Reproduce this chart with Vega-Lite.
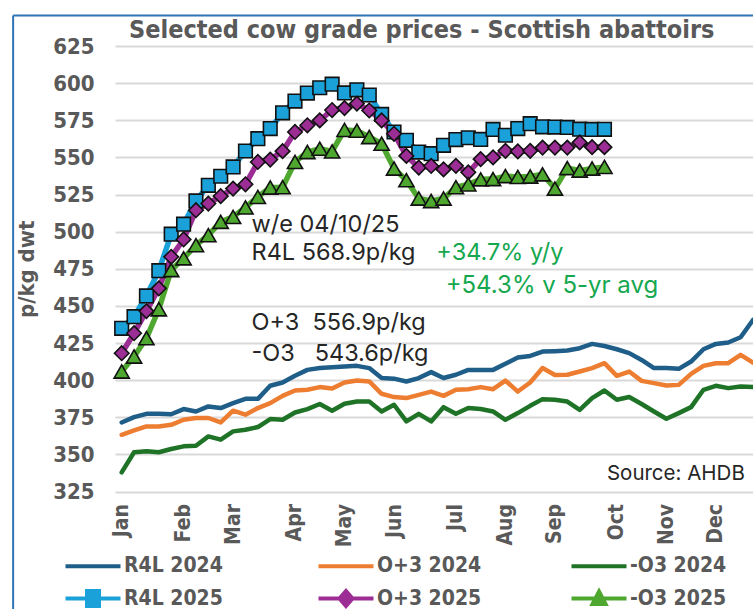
{
  "$schema": "https://vega.github.io/schema/vega-lite/v6.json",
  "autosize": "none",
  "width": 638,
  "height": 445.5,
  "padding": {"left": 115, "top": 46, "right": 0, "bottom": 117.5},
  "background": "white",
  "config": {
    "view": {"stroke": null},
    "font": "DejaVu Sans Condensed, sans-serif",
    "axis": {"labelOverlap": false}
  },
  "data": {
    "values": [
      {"week":1,"series":"R4L 2024","price":371.5},{"week":2,"series":"R4L 2024","price":375.1},{"week":3,"series":"R4L 2024","price":377.3},{"week":4,"series":"R4L 2024","price":377.3},{"week":5,"series":"R4L 2024","price":377.0},{"week":6,"series":"R4L 2024","price":380.5},{"week":7,"series":"R4L 2024","price":378.9},{"week":8,"series":"R4L 2024","price":382.3},{"week":9,"series":"R4L 2024","price":381.2},{"week":10,"series":"R4L 2024","price":384.5},
      {"week":11,"series":"R4L 2024","price":387.4},{"week":12,"series":"R4L 2024","price":387.4},{"week":13,"series":"R4L 2024","price":396.2},{"week":14,"series":"R4L 2024","price":398.4},{"week":15,"series":"R4L 2024","price":402.9},{"week":16,"series":"R4L 2024","price":406.9},{"week":17,"series":"R4L 2024","price":408.1},{"week":18,"series":"R4L 2024","price":408.7},{"week":19,"series":"R4L 2024","price":409.1},{"week":20,"series":"R4L 2024","price":409.6},
      {"week":21,"series":"R4L 2024","price":408.1},{"week":22,"series":"R4L 2024","price":401.4},{"week":23,"series":"R4L 2024","price":401.0},{"week":24,"series":"R4L 2024","price":399.1},{"week":25,"series":"R4L 2024","price":401.4},{"week":26,"series":"R4L 2024","price":405.4},{"week":27,"series":"R4L 2024","price":401.4},{"week":28,"series":"R4L 2024","price":403.6},{"week":29,"series":"R4L 2024","price":406.9},{"week":30,"series":"R4L 2024","price":406.9},
      {"week":31,"series":"R4L 2024","price":406.9},{"week":32,"series":"R4L 2024","price":411.0},{"week":33,"series":"R4L 2024","price":415.2},{"week":34,"series":"R4L 2024","price":416.3},{"week":35,"series":"R4L 2024","price":419.2},{"week":36,"series":"R4L 2024","price":419.5},{"week":37,"series":"R4L 2024","price":419.9},{"week":38,"series":"R4L 2024","price":421.5},{"week":39,"series":"R4L 2024","price":424.4},{"week":40,"series":"R4L 2024","price":423.0},
      {"week":41,"series":"R4L 2024","price":420.8},{"week":42,"series":"R4L 2024","price":418.2},{"week":43,"series":"R4L 2024","price":413.6},{"week":44,"series":"R4L 2024","price":408.1},{"week":45,"series":"R4L 2024","price":408.1},{"week":46,"series":"R4L 2024","price":407.6},{"week":47,"series":"R4L 2024","price":412.5},{"week":48,"series":"R4L 2024","price":420.8},{"week":49,"series":"R4L 2024","price":424.4},{"week":50,"series":"R4L 2024","price":425.3},
      {"week":51,"series":"R4L 2024","price":428.9},{"week":52,"series":"R4L 2024","price":440.5},

      {"week":1,"series":"O+3 2024","price":363.2},{"week":2,"series":"O+3 2024","price":366.1},{"week":3,"series":"O+3 2024","price":368.8},{"week":4,"series":"O+3 2024","price":368.8},{"week":5,"series":"O+3 2024","price":369.9},{"week":6,"series":"O+3 2024","price":373.3},{"week":7,"series":"O+3 2024","price":374.5},{"week":8,"series":"O+3 2024","price":374.5},{"week":9,"series":"O+3 2024","price":371.5},{"week":10,"series":"O+3 2024","price":379.4},
      {"week":11,"series":"O+3 2024","price":376.7},{"week":12,"series":"O+3 2024","price":381.2},{"week":13,"series":"O+3 2024","price":384.5},{"week":14,"series":"O+3 2024","price":389.4},{"week":15,"series":"O+3 2024","price":393.0},{"week":16,"series":"O+3 2024","price":393.5},{"week":17,"series":"O+3 2024","price":395.3},{"week":18,"series":"O+3 2024","price":394.3},{"week":19,"series":"O+3 2024","price":398.4},{"week":20,"series":"O+3 2024","price":399.7},
      {"week":21,"series":"O+3 2024","price":399.1},{"week":22,"series":"O+3 2024","price":390.8},{"week":23,"series":"O+3 2024","price":388.6},{"week":24,"series":"O+3 2024","price":387.9},{"week":25,"series":"O+3 2024","price":390.1},{"week":26,"series":"O+3 2024","price":392.3},{"week":27,"series":"O+3 2024","price":389.4},{"week":28,"series":"O+3 2024","price":393.5},{"week":29,"series":"O+3 2024","price":393.9},{"week":30,"series":"O+3 2024","price":395.3},
      {"week":31,"series":"O+3 2024","price":393.9},{"week":32,"series":"O+3 2024","price":399.7},{"week":33,"series":"O+3 2024","price":392.3},{"week":34,"series":"O+3 2024","price":398.4},{"week":35,"series":"O+3 2024","price":408.2},{"week":36,"series":"O+3 2024","price":403.5},{"week":37,"series":"O+3 2024","price":403.6},{"week":38,"series":"O+3 2024","price":405.8},{"week":39,"series":"O+3 2024","price":408.1},{"week":40,"series":"O+3 2024","price":411.4},
      {"week":41,"series":"O+3 2024","price":402.9},{"week":42,"series":"O+3 2024","price":405.8},{"week":43,"series":"O+3 2024","price":399.5},{"week":44,"series":"O+3 2024","price":398.0},{"week":45,"series":"O+3 2024","price":396.4},{"week":46,"series":"O+3 2024","price":396.8},{"week":47,"series":"O+3 2024","price":404.2},{"week":48,"series":"O+3 2024","price":409.6},{"week":49,"series":"O+3 2024","price":411.4},{"week":50,"series":"O+3 2024","price":411.4},
      {"week":51,"series":"O+3 2024","price":417.0},{"week":52,"series":"O+3 2024","price":411.8},

      {"week":1,"series":"-O3 2024","price":337.9},{"week":2,"series":"-O3 2024","price":351.4},{"week":3,"series":"-O3 2024","price":352.1},{"week":4,"series":"-O3 2024","price":351.4},{"week":5,"series":"-O3 2024","price":353.6},{"week":6,"series":"-O3 2024","price":355.4},{"week":7,"series":"-O3 2024","price":355.8},{"week":8,"series":"-O3 2024","price":362.1},{"week":9,"series":"-O3 2024","price":359.9},{"week":10,"series":"-O3 2024","price":365.5},
      {"week":11,"series":"-O3 2024","price":366.6},{"week":12,"series":"-O3 2024","price":368.4},{"week":13,"series":"-O3 2024","price":373.8},{"week":14,"series":"-O3 2024","price":373.3},{"week":15,"series":"-O3 2024","price":378.2},{"week":16,"series":"-O3 2024","price":380.5},{"week":17,"series":"-O3 2024","price":383.9},{"week":18,"series":"-O3 2024","price":379.4},{"week":19,"series":"-O3 2024","price":384.1},{"week":20,"series":"-O3 2024","price":385.6},
      {"week":21,"series":"-O3 2024","price":385.6},{"week":22,"series":"-O3 2024","price":378.9},{"week":23,"series":"-O3 2024","price":383.4},{"week":24,"series":"-O3 2024","price":372.2},{"week":25,"series":"-O3 2024","price":377.3},{"week":26,"series":"-O3 2024","price":372.2},{"week":27,"series":"-O3 2024","price":381.8},{"week":28,"series":"-O3 2024","price":377.3},{"week":29,"series":"-O3 2024","price":381.2},{"week":30,"series":"-O3 2024","price":380.5},
      {"week":31,"series":"-O3 2024","price":378.9},{"week":32,"series":"-O3 2024","price":373.3},{"week":33,"series":"-O3 2024","price":377.8},{"week":34,"series":"-O3 2024","price":382.7},{"week":35,"series":"-O3 2024","price":387.2},{"week":36,"series":"-O3 2024","price":386.8},{"week":37,"series":"-O3 2024","price":385.6},{"week":38,"series":"-O3 2024","price":380.0},{"week":39,"series":"-O3 2024","price":387.9},{"week":40,"series":"-O3 2024","price":393.0},
      {"week":41,"series":"-O3 2024","price":386.8},{"week":42,"series":"-O3 2024","price":388.6},{"week":43,"series":"-O3 2024","price":383.9},{"week":44,"series":"-O3 2024","price":378.9},{"week":45,"series":"-O3 2024","price":374.0},{"week":46,"series":"-O3 2024","price":377.8},{"week":47,"series":"-O3 2024","price":381.8},{"week":48,"series":"-O3 2024","price":393.5},{"week":49,"series":"-O3 2024","price":396.2},{"week":50,"series":"-O3 2024","price":394.6},
      {"week":51,"series":"-O3 2024","price":395.7},{"week":52,"series":"-O3 2024","price":395.3},

      {"week":1,"series":"R4L 2025","price":434.9},{"week":2,"series":"R4L 2025","price":442.7},{"week":3,"series":"R4L 2025","price":456.7},{"week":4,"series":"R4L 2025","price":473.7},{"week":5,"series":"R4L 2025","price":498.3},{"week":6,"series":"R4L 2025","price":505.0},{"week":7,"series":"R4L 2025","price":520.7},{"week":8,"series":"R4L 2025","price":531.2},{"week":9,"series":"R4L 2025","price":537.3},{"week":10,"series":"R4L 2025","price":543.6},
      {"week":11,"series":"R4L 2025","price":554.3},{"week":12,"series":"R4L 2025","price":562.6},{"week":13,"series":"R4L 2025","price":569.4},{"week":14,"series":"R4L 2025","price":580.0},{"week":15,"series":"R4L 2025","price":587.9},{"week":16,"series":"R4L 2025","price":593.3},{"week":17,"series":"R4L 2025","price":596.9},{"week":18,"series":"R4L 2025","price":599.3},{"week":19,"series":"R4L 2025","price":593.4},{"week":20,"series":"R4L 2025","price":595.5},
      {"week":21,"series":"R4L 2025","price":592.0},{"week":22,"series":"R4L 2025","price":578.9},{"week":23,"series":"R4L 2025","price":567.1},{"week":24,"series":"R4L 2025","price":561.5},{"week":25,"series":"R4L 2025","price":553.6},{"week":26,"series":"R4L 2025","price":552.5},{"week":27,"series":"R4L 2025","price":558.1},{"week":28,"series":"R4L 2025","price":562.0},{"week":29,"series":"R4L 2025","price":563.2},{"week":30,"series":"R4L 2025","price":562.1},
      {"week":31,"series":"R4L 2025","price":568.8},{"week":32,"series":"R4L 2025","price":564.9},{"week":33,"series":"R4L 2025","price":569.4},{"week":34,"series":"R4L 2025","price":572.7},{"week":35,"series":"R4L 2025","price":570.6},{"week":36,"series":"R4L 2025","price":570.4},{"week":37,"series":"R4L 2025","price":570.2},{"week":38,"series":"R4L 2025","price":569.0},{"week":39,"series":"R4L 2025","price":568.8},{"week":40,"series":"R4L 2025","price":568.9},

      {"week":1,"series":"O+3 2025","price":418.1},{"week":2,"series":"O+3 2025","price":431.6},{"week":3,"series":"O+3 2025","price":446.5},{"week":4,"series":"O+3 2025","price":461.8},{"week":5,"series":"O+3 2025","price":483.0},{"week":6,"series":"O+3 2025","price":494.7},{"week":7,"series":"O+3 2025","price":514.4},{"week":8,"series":"O+3 2025","price":518.9},{"week":9,"series":"O+3 2025","price":523.9},{"week":10,"series":"O+3 2025","price":529.0},
      {"week":11,"series":"O+3 2025","price":531.9},{"week":12,"series":"O+3 2025","price":546.9},{"week":13,"series":"O+3 2025","price":548.5},{"week":14,"series":"O+3 2025","price":554.2},{"week":15,"series":"O+3 2025","price":567.1},{"week":16,"series":"O+3 2025","price":571.6},{"week":17,"series":"O+3 2025","price":574.9},{"week":18,"series":"O+3 2025","price":581.9},{"week":19,"series":"O+3 2025","price":583.2},{"week":20,"series":"O+3 2025","price":586.2},
      {"week":21,"series":"O+3 2025","price":581.6},{"week":22,"series":"O+3 2025","price":574.9},{"week":23,"series":"O+3 2025","price":565.9},{"week":24,"series":"O+3 2025","price":551.0},{"week":25,"series":"O+3 2025","price":543.1},{"week":26,"series":"O+3 2025","price":544.2},{"week":27,"series":"O+3 2025","price":541.9},{"week":28,"series":"O+3 2025","price":544.3},{"week":29,"series":"O+3 2025","price":539.9},{"week":30,"series":"O+3 2025","price":548.8},
      {"week":31,"series":"O+3 2025","price":550.0},{"week":32,"series":"O+3 2025","price":554.4},{"week":33,"series":"O+3 2025","price":554.0},{"week":34,"series":"O+3 2025","price":554.4},{"week":35,"series":"O+3 2025","price":556.6},{"week":36,"series":"O+3 2025","price":556.6},{"week":37,"series":"O+3 2025","price":556.6},{"week":38,"series":"O+3 2025","price":560.1},{"week":39,"series":"O+3 2025","price":556.9},{"week":40,"series":"O+3 2025","price":556.9},

      {"week":1,"series":"-O3 2025","price":405.8},{"week":2,"series":"-O3 2025","price":415.9},{"week":3,"series":"-O3 2025","price":428.2},{"week":4,"series":"-O3 2025","price":447.7},{"week":5,"series":"-O3 2025","price":474.1},{"week":6,"series":"-O3 2025","price":482.0},{"week":7,"series":"-O3 2025","price":490.9},{"week":8,"series":"-O3 2025","price":497.6},{"week":9,"series":"-O3 2025","price":506.6},{"week":10,"series":"-O3 2025","price":509.9},
      {"week":11,"series":"-O3 2025","price":516.3},{"week":12,"series":"-O3 2025","price":523.4},{"week":13,"series":"-O3 2025","price":529.7},{"week":14,"series":"-O3 2025","price":529.9},{"week":15,"series":"-O3 2025","price":546.9},{"week":16,"series":"-O3 2025","price":553.6},{"week":17,"series":"-O3 2025","price":555.9},{"week":18,"series":"-O3 2025","price":554.0},{"week":19,"series":"-O3 2025","price":568.5},{"week":20,"series":"-O3 2025","price":568.0},
      {"week":21,"series":"-O3 2025","price":563.7},{"week":22,"series":"-O3 2025","price":559.2},{"week":23,"series":"-O3 2025","price":542.5},{"week":24,"series":"-O3 2025","price":534.6},{"week":25,"series":"-O3 2025","price":522.3},{"week":26,"series":"-O3 2025","price":520.6},{"week":27,"series":"-O3 2025","price":522.3},{"week":28,"series":"-O3 2025","price":529.9},{"week":29,"series":"-O3 2025","price":531.8},{"week":30,"series":"-O3 2025","price":535.2},
      {"week":31,"series":"-O3 2025","price":535.4},{"week":32,"series":"-O3 2025","price":537.4},{"week":33,"series":"-O3 2025","price":536.8},{"week":34,"series":"-O3 2025","price":537.1},{"week":35,"series":"-O3 2025","price":538.6},{"week":36,"series":"-O3 2025","price":529.0},{"week":37,"series":"-O3 2025","price":542.8},{"week":38,"series":"-O3 2025","price":541.1},{"week":39,"series":"-O3 2025","price":542.5},{"week":40,"series":"-O3 2025","price":543.6}
    ]
  },
  "encoding": {
    "x": {
      "field": "week",
      "type": "quantitative",
      "scale": {"domain": [0.46, 52], "nice": false, "zero": false},
      "axis": {
        "title": null,
        "values": [1, 6, 10, 15, 19, 23, 28, 32, 36, 41, 45, 49],
        "labelExpr": "['Jan','Feb','Mar','Apr','May','Jun','Jul','Aug','Sep','Oct','Nov','Dec'][indexof([1,6,10,15,19,23,28,32,36,41,45,49], datum.value)]",
        "labelAngle": -90,
        "labelAlign": "right",
        "labelBaseline": "middle",
        "labelFontSize": 21,
        "labelFontWeight": "bold",
        "labelColor": "#595959",
        "labelPadding": 12,
        "ticks": false,
        "domain": false,
        "grid": false,
        "labelOverlap": false,
        "labelFlush": false
      }
    },
    "y": {
      "field": "price",
      "type": "quantitative",
      "scale": {"domain": [325, 625], "nice": false, "zero": false},
      "axis": {
        "title": "p/kg dwt",
        "titleFontSize": 22,
        "titleFontWeight": "bold",
        "titleColor": "#595959",
        "titlePadding": 14,
        "values": [325, 350, 375, 400, 425, 450, 475, 500, 525, 550, 575, 600, 625],
        "labelFontSize": 22,
        "labelFontWeight": "bold",
        "labelColor": "#595959",
        "labelPadding": 21,
        "labelOverlap": false,
        "labelFlush": false,
        "ticks": false,
        "domain": false,
        "grid": true,
        "gridColor": "#D9D9D9",
        "gridWidth": 2
      }
    }
  },
  "layer": [
    {
      "transform": [{"filter": "indexof(datum.series, '2024') >= 0"}],
      "mark": {"type": "line", "strokeWidth": 4.5, "strokeJoin": "round", "strokeCap": "round"},
      "encoding": {
        "color": {
          "field": "series",
          "type": "nominal",
          "scale": {
            "domain": ["R4L 2024", "O+3 2024", "-O3 2024", "R4L 2025", "O+3 2025", "-O3 2025"],
            "range": ["#1F5E88", "#ED7D31", "#1E7327", "#1BA1D9", "#9B2D95", "#4EA72E"]
          },
          "legend": {
            "title": null,
            "orient": "none",
            "direction": "horizontal",
            "legendX": -50,
            "legendY": 507,
            "columns": 3,
            "columnPadding": 81,
            "rowPadding": 4,
            "gridAlign": "all",
            "symbolSize": 100,
            "symbolStrokeWidth": 4,
            "labelOffset": 38,
            "labelFontSize": 21,
            "labelFontWeight": "bold",
            "labelColor": "#595959",
            "labelLimit": 300,
            "encode": {
              "symbols": {
                "update": {
                  "shape": {"signal": "datum.value === 'R4L 2025' ? 'M-2,0H9M2.3,-1.5H4.7V1.5H2.3Z' : datum.value === 'O+3 2025' ? 'M-2,0H9M3.5,-1.5L4.8,0L3.5,1.5L2.2,0Z' : datum.value === '-O3 2025' ? 'M-2,0H9M3.5,-1.4L4.8,1.1H2.2Z' : 'M-2,0H9'"},
                  "fill": {"scale": "color", "field": "value"},
                  "stroke": {"scale": "color", "field": "value"},
                  "strokeWidth": {"value": 4},
                  "opacity": {"value": 1}
                }
              }
            }
          }
        }
      }
    },
    {
      "transform": [{"filter": "indexof(datum.series, '2025') >= 0"}],
      "mark": {"type": "line", "strokeWidth": 5.5, "strokeJoin": "round", "strokeCap": "round"},
      "encoding": {
        "color": {"field": "series", "type": "nominal"}
      }
    },
    {
      "transform": [{"filter": "datum.series === 'R4L 2025'"}],
      "mark": {"type": "point", "shape": "square", "filled": true, "fill": "#1BA1D9", "stroke": "#111111", "strokeWidth": 1.6, "size": 185, "opacity": 1}
    },
    {
      "transform": [{"filter": "datum.series === 'O+3 2025'"}],
      "mark": {"type": "point", "shape": "diamond", "filled": true, "fill": "#9B2D95", "stroke": "#111111", "strokeWidth": 1.6, "size": 210, "opacity": 1}
    },
    {
      "transform": [{"filter": "datum.series === '-O3 2025'"}],
      "mark": {"type": "point", "shape": "triangle-up", "filled": true, "fill": "#4EA72E", "stroke": "#111111", "strokeWidth": 1.6, "size": 230, "opacity": 1}
    },
    {
      "transform": [{"filter": "datum.series === 'R4L 2024' && datum.week === 1"}],
      "mark": {"type": "rule", "color": "#2E75B6", "strokeWidth": 2},
      "encoding": {"x": {"datum": -7.77, "type": "quantitative"}, "y": {"datum": 645.5, "type": "quantitative"}, "y2": {"datum": 240}}
    },
    {
      "transform": [{"filter": "datum.series === 'R4L 2024' && datum.week === 1"}],
      "mark": {"type": "rule", "color": "#2E75B6", "strokeWidth": 2},
      "encoding": {"x": {"datum": -7.77, "type": "quantitative"}, "x2": {"datum": 60}, "y": {"datum": 645.5, "type": "quantitative"}}
    },
    {
      "transform": [{"filter": "datum.series === 'R4L 2024' && datum.week === 1"}],
      "mark": {"type": "text", "align": "center", "baseline": "alphabetic", "font": "DejaVu Sans Condensed, sans-serif", "fontSize": 25, "fontWeight": "bold", "color": "#595959"},
      "encoding": {"x": {"datum": 25.24, "type": "quantitative"}, "y": {"datum": 630.7, "type": "quantitative"}, "text": {"value": "Selected cow grade prices - Scottish abattoirs"}}
    },
    {
      "transform": [{"filter": "datum.series === 'R4L 2024' && datum.week === 1"}],
      "mark": {"type": "text", "align": "left", "baseline": "alphabetic", "font": "Inter", "fontSize": 23.5, "color": "#262626"},
      "encoding": {"x": {"datum": 11.49, "type": "quantitative"}, "y": {"datum": 499.8, "type": "quantitative"}, "text": {"value": "w/e 04/10/25"}}
    },
    {
      "transform": [{"filter": "datum.series === 'R4L 2024' && datum.week === 1"}],
      "mark": {"type": "text", "align": "left", "baseline": "alphabetic", "font": "Inter", "fontSize": 23.5, "color": "#262626"},
      "encoding": {"x": {"datum": 11.49, "type": "quantitative"}, "y": {"datum": 481.0, "type": "quantitative"}, "text": {"value": "R4L 568.9p/kg"}}
    },
    {
      "transform": [{"filter": "datum.series === 'R4L 2024' && datum.week === 1"}],
      "mark": {"type": "text", "align": "left", "baseline": "alphabetic", "font": "Inter", "fontSize": 23.5, "color": "#16A84F"},
      "encoding": {"x": {"datum": 26.42, "type": "quantitative"}, "y": {"datum": 481.0, "type": "quantitative"}, "text": {"value": "+34.7% y/y"}}
    },
    {
      "transform": [{"filter": "datum.series === 'R4L 2024' && datum.week === 1"}],
      "mark": {"type": "text", "align": "left", "baseline": "alphabetic", "font": "Inter", "fontSize": 24, "color": "#16A84F"},
      "encoding": {"x": {"datum": 27.17, "type": "quantitative"}, "y": {"datum": 458.5, "type": "quantitative"}, "text": {"value": "+54.3% v 5-yr avg"}}
    },
    {
      "transform": [{"filter": "datum.series === 'R4L 2024' && datum.week === 1"}],
      "mark": {"type": "text", "align": "left", "baseline": "alphabetic", "font": "Inter", "fontSize": 23.5, "color": "#262626"},
      "encoding": {"x": {"datum": 11.49, "type": "quantitative"}, "y": {"datum": 433.8, "type": "quantitative"}, "text": {"value": "O+3\u00a0\u00a0556.9p/kg"}}
    },
    {
      "transform": [{"filter": "datum.series === 'R4L 2024' && datum.week === 1"}],
      "mark": {"type": "text", "align": "left", "baseline": "alphabetic", "font": "Inter", "fontSize": 23.5, "color": "#262626"},
      "encoding": {"x": {"datum": 11.49, "type": "quantitative"}, "y": {"datum": 413.2, "type": "quantitative"}, "text": {"value": "-O3\u00a0\u00a0\u00a0543.6p/kg"}}
    },
    {
      "transform": [{"filter": "datum.series === 'R4L 2024' && datum.week === 1"}],
      "mark": {"type": "text", "align": "left", "baseline": "alphabetic", "font": "Inter", "fontSize": 20.5, "color": "#262626"},
      "encoding": {"x": {"datum": 40.2, "type": "quantitative"}, "y": {"datum": 333.0, "type": "quantitative"}, "text": {"value": "Source: AHDB"}}
    }
  ]
}
